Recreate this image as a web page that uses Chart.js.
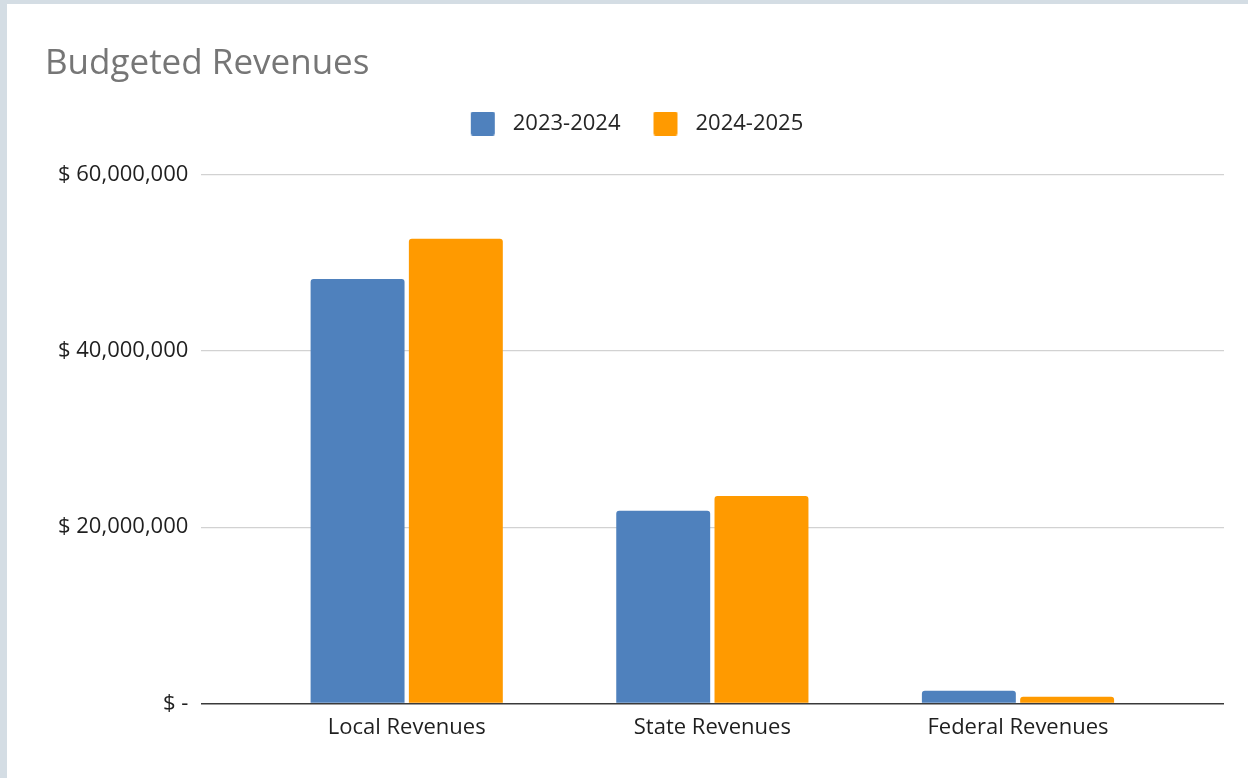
<!DOCTYPE html>
<html>
<head>
<meta charset="utf-8">
<title>Budgeted Revenues</title>
<script src="https://cdn.jsdelivr.net/npm/chart.js@4.4.1/dist/chart.umd.min.js"></script>
<style>
  html, body { margin: 0; padding: 0; background: #d4dde4; }
  #card {
    position: absolute; left: 7px; top: 4px;
    width: 1241px; height: 774px; background: #ffffff;
  }
</style>
</head>
<body>
<div id="card"><canvas id="revChart" width="1241" height="774"></canvas></div>
<script>
const categories = ['Local Revenues', 'State Revenues', 'Federal Revenues'];
const seriesNames = ['2023-2024', '2024-2025'];
const revenues2324 = [48150000, 21880000, 1470000];
const revenues2425 = [52720000, 23550000, 790000];
const yTicks = [0, 20000000, 40000000, 60000000];
const seriesColors = ['#4f81bd', '#ff9a00'];

// bars sit on a numeric x axis so the category spacing can be set by min/max
const toPoints = vals => vals.map((v, i) => ({ x: i, y: v }));

const money = v => v === 0 ? '$ -' : '$ ' + v.toLocaleString('en-US');

const FONT = 'Open Sans';

// legend swatch: rounded square with some clear space left and right of it
function swatch(color) {
    let c = document.createElement('canvas');
    c.width = 36;
    c.height = 24;
    let g = c.getContext('2d');
    g.fillStyle = color;
    g.beginPath();
    g.roundRect(5, 0, 24, 24, 2);
    g.fill();
    return c;
}
const swatches = seriesColors.map(swatch);

// a bit more room between the legend and the plot
const legendGap = {
    id: 'legendGap',
    beforeInit(chart) {
        const fit = chart.legend.fit;
        chart.legend.fit = function () {
            fit.call(this);
            this.height += 30;
        };
    }
};

let ctx = document.getElementById('revChart').getContext('2d');
let revChart = new Chart(ctx, {
    type: 'bar',
    data: {
        datasets: [{
            label: seriesNames[0],
            data: toPoints(revenues2324),
            backgroundColor: seriesColors[0],
            borderRadius: { topLeft: 3, topRight: 3 },
            categoryPercentage: 0.643,
            barPercentage: 0.956
        }, {
            label: seriesNames[1],
            data: toPoints(revenues2425),
            backgroundColor: seriesColors[1],
            borderRadius: { topLeft: 3, topRight: 3 },
            categoryPercentage: 0.643,
            barPercentage: 0.956
        }]
    },
    plugins: [legendGap],
    options: {
        responsive: false,
        animation: false,
        layout: { padding: { left: 38, right: 24, top: 0, bottom: 26 } },
        plugins: {
            title: {
                display: true,
                text: 'Budgeted Revenues',
                align: 'start',
                color: '#767676',
                font: { family: FONT, size: 35, weight: 'normal', lineHeight: 1 },
                padding: { top: 43, bottom: 2.5 }
            },
            legend: {
                labels: {
                    usePointStyle: true,
                    pointStyleWidth: 36,
                    boxHeight: 24,
                    padding: 28,
                    color: '#262626',
                    font: { family: FONT, size: 22 },
                    generateLabels: chart => Chart.defaults.plugins.legend.labels.generateLabels(chart)
                        .map((item, i) => ({ ...item, pointStyle: swatches[i] }))
                }
            },
            tooltip: { enabled: false }
        },
        scales: {
            x: {
                type: 'linear',
                offset: false,
                min: -0.672,
                max: 2.674,
                grid: { display: false, drawTicks: false },
                border: { display: false },
                ticks: {
                    stepSize: 1,
                    includeBounds: false,
                    padding: 11,
                    color: '#1f1f1f',
                    font: { family: FONT, size: 22 },
                    callback: v => Number.isInteger(v) ? categories[v] : ''
                }
            },
            y: {
                min: 0,
                max: 60000000,
                afterBuildTicks: axis => { axis.ticks = yTicks.map(v => ({ value: v })); },
                grid: {
                    drawTicks: false,
                    color: c => c.tick.value === 0 ? '#3a3a3a' : '#d2d2d2',
                    lineWidth: c => c.tick.value === 0 ? 1.6 : 1.2
                },
                border: { display: false },
                ticks: {
                    padding: 13,
                    color: '#1f1f1f',
                    font: { family: FONT, size: 22 },
                    callback: v => money(v)
                }
            }
        }
    }
});
</script>
</body>
</html>
